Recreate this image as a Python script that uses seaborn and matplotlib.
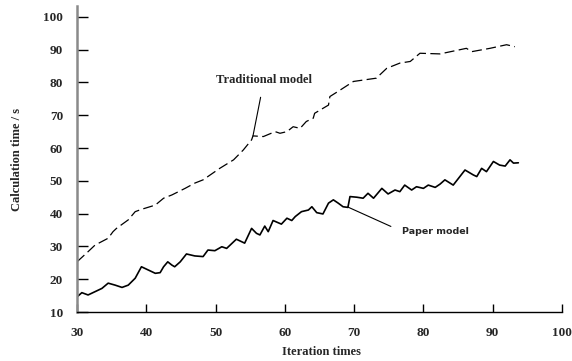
import matplotlib
matplotlib.use("Agg")
import matplotlib.pyplot as plt
import seaborn as sns
import pandas as pd

# ---- data ----
trad_x = [30.0, 31.6, 32.6, 34.5, 35.2, 35.7, 37.4, 38.4, 39.3, 41.3, 42.5, 43.7,
          45.6, 47.0, 48.2, 50.6, 52.6, 54.0, 55.2, 55.4, 56.9, 58.6, 59.3, 60.3,
          61.2, 62.2, 63.1, 64.1, 64.3, 65.1, 66.3, 66.5, 68.0, 69.9, 73.2, 74.7,
          76.6, 78.1, 79.5, 82.4, 86.2, 87.0, 89.6, 92.0, 93.2]
trad_y = [25.3, 28.4, 30.4, 32.5, 34.5, 35.5, 38.1, 40.6, 41.3, 42.6, 44.7, 45.7,
          47.7, 49.3, 50.3, 53.8, 56.4, 59.4, 62.5, 63.7, 63.5, 65.0, 64.5, 65.0,
          66.5, 66.0, 68.1, 69.1, 70.6, 71.6, 73.1, 75.7, 77.7, 80.3, 81.3, 84.3,
          85.9, 86.4, 88.9, 88.7, 90.4, 89.4, 90.4, 91.5, 90.9]

paper_x = [30.0, 30.7, 31.6, 32.6, 33.6, 34.5, 35.5, 36.5, 37.4, 38.4, 39.3, 40.1,
           41.3, 42.0, 42.5, 43.1, 43.7, 44.1, 44.9, 45.8, 47.0, 48.2, 48.9, 49.9,
           50.9, 51.6, 53.0, 54.2, 55.2, 55.9, 56.4, 57.1, 57.6, 58.3, 59.5, 60.3,
           61.0, 61.5, 62.4, 63.4, 63.9, 64.6, 65.5, 66.3, 67.0, 67.7, 68.4, 69.1,
           69.4, 70.4, 71.3, 72.0, 72.8, 74.0, 74.9, 75.9, 76.6, 77.3, 78.3, 79.0,
           80.0, 80.7, 81.7, 82.4, 83.1, 84.3, 86.0, 87.2, 87.7, 88.4, 89.1, 90.1,
           91.0, 91.8, 92.5, 93.0, 93.7]
paper_y = [14.6, 15.9, 15.2, 16.2, 17.2, 18.8, 18.2, 17.5, 18.2, 20.3, 23.8, 23.0,
           21.8, 22.0, 23.8, 25.3, 24.3, 23.8, 25.3, 27.7, 27.1, 26.9, 28.9, 28.7,
           29.9, 29.4, 32.2, 31.0, 35.5, 34.0, 33.5, 36.2, 34.5, 37.9, 36.8, 38.6,
           37.9, 39.1, 40.6, 41.1, 42.1, 40.3, 39.9, 43.2, 44.2, 43.2, 42.1, 41.9,
           45.2, 45.0, 44.7, 46.2, 44.7, 47.7, 46.0, 47.2, 46.7, 48.7, 47.2, 48.2,
           47.7, 48.7, 48.0, 49.0, 50.3, 48.7, 53.3, 51.8, 51.3, 53.8, 52.8, 55.9,
           54.8, 54.5, 56.4, 55.4, 55.5]

x_ticks = [30, 40, 50, 60, 70, 80, 90, 100]
y_ticks = [10, 20, 30, 40, 50, 60, 70, 80, 90, 100]
x_label = "Iteration times"
y_label = "Calculation time / s"
trad_label = "Traditional model"
paper_label = "Paper model"

sns.set_style("white")
serif = ["Liberation Serif", "DejaVu Serif"]

fig = plt.figure(figsize=(5.72, 3.61), dpi=100)
ax = fig.add_axes([0.1346, 0.1357, 0.8479, 0.8476])

trad_df = pd.DataFrame({"x": trad_x, "y": trad_y})
paper_df = pd.DataFrame({"x": paper_x, "y": paper_y})

sns.lineplot(data=trad_df, x="x", y="y", ax=ax, color="black", linewidth=0.9,
             estimator=None, sort=False)
ax.lines[-1].set_dashes([8, 3.5])
sns.lineplot(data=paper_df, x="x", y="y", ax=ax, color="black", linewidth=1.2,
             estimator=None, sort=False)

ax.set_xlim(30, 100)
ax.set_ylim(10, 103.3)
ax.set_xticks(x_ticks)
ax.set_yticks(y_ticks)
ax.set_xticklabels([str(t) for t in x_ticks], fontfamily=serif, fontweight="bold", fontsize=9.5)
ax.set_yticklabels([str(t) for t in y_ticks], fontfamily=serif, fontweight="bold", fontsize=9.5)
ax.tick_params(axis="x", direction="in", length=6, width=1, pad=11, color="black", bottom=True)
ax.tick_params(axis="y", direction="in", length=8, width=1, pad=10, color="black", left=True)

for s in ["top", "right"]:
    ax.spines[s].set_visible(False)
ax.spines["left"].set_color("#8a8a8a")
ax.spines["left"].set_linewidth(1.8)
ax.spines["bottom"].set_color("black")
ax.spines["bottom"].set_linewidth(1.0)

ax.set_xlabel(x_label, fontfamily=serif, fontweight="bold", fontsize=9)
ax.set_ylabel(y_label, fontfamily=serif, fontweight="bold", fontsize=9)
ax.xaxis.set_label_coords(0.503, -0.111)
ax.yaxis.set_label_coords(-0.112, 0.5)

ax.annotate(trad_label, xy=(55.4, 63.7), xytext=(57.0, 80.8),
            fontfamily=serif, fontweight="bold", fontsize=9, ha="center", va="center",
            arrowprops=dict(arrowstyle="-", color="black", lw=0.8, shrinkA=6, shrinkB=0))
ax.annotate(paper_label, xy=(69.1, 42.0), xytext=(81.7, 34.6),
            fontfamily=["DejaVu Sans"], fontweight="bold", fontsize=6.8, ha="center", va="center",
            arrowprops=dict(arrowstyle="-", color="black", lw=0.8, shrinkA=6, shrinkB=0,
                            relpos=(0.0, 0.5)))

fig.savefig("out.png", dpi=100)
